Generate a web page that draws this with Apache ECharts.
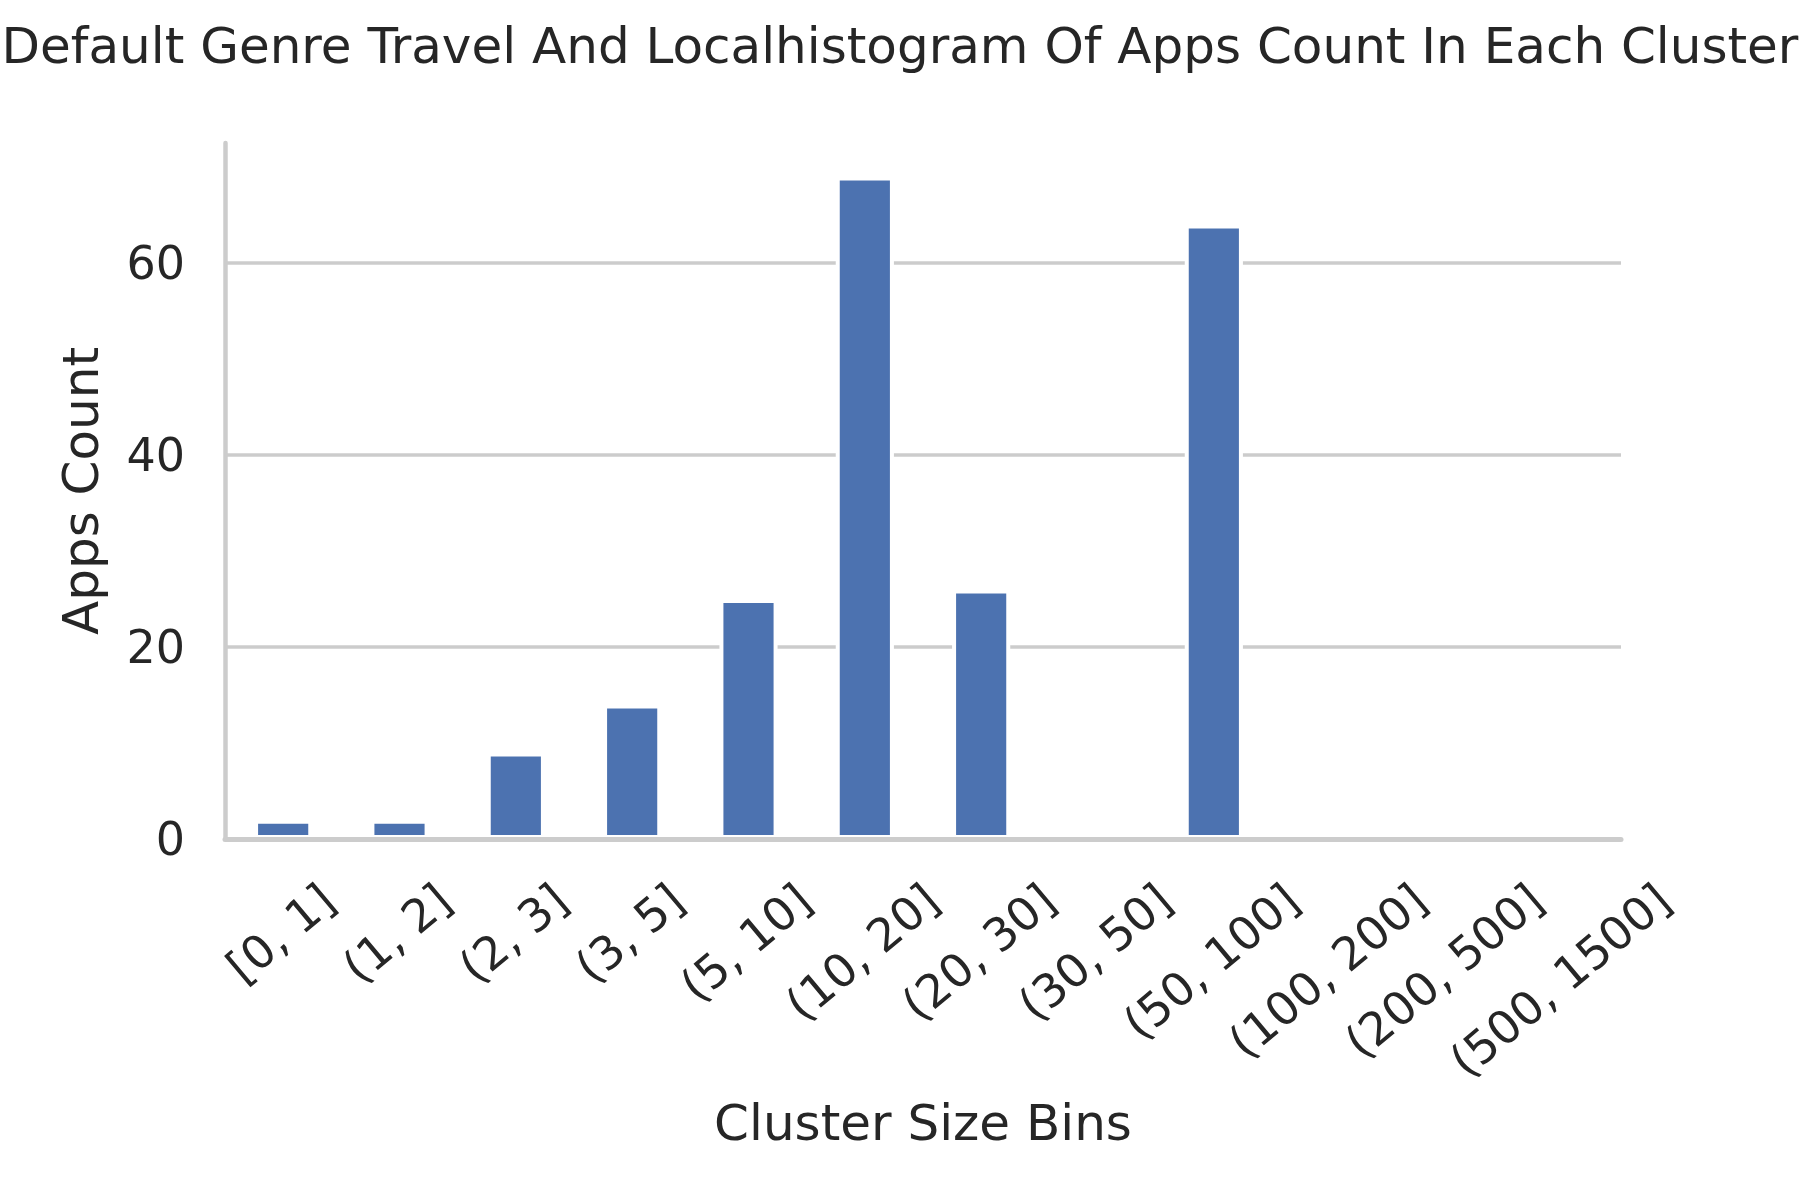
<!DOCTYPE html>
<html lang="en">
<head>
    <meta charset="UTF-8">
    <title>apps-count-histogram</title>
    <script src="https://cdn.jsdelivr.net/npm/echarts@6.0.0/dist/echarts.min.js"></script>
</head>
<body style="margin:0">
<div id="main" style="width: 1800px;height:1200px;"></div>
<script>
    // cluster size bins and apps count per bin
    var bins = ['[0, 1]', '(1, 2]', '(2, 3]', '(3, 5]', '(5, 10]', '(10, 20]', '(20, 30]',
        '(30, 50]', '(50, 100]', '(100, 200]', '(200, 500]', '(500, 1500]'];
    var counts = [2, 2, 9, 14, 25, 69, 26, 0, 64, 0, 0, 0];
    var yTicks = [0, 20, 40, 60];

    var FONT = 'DejaVu Sans';
    var TEXT = '#262626';
    var tickSize = 46;
    var rot = 40 * Math.PI / 180;

    // rotated labels: centre each one under its tick, top of the rotated box at a fixed gap
    // (align / verticalAlign must sit on the item itself, the axisLabel ones are not inherited)
    var ctx = document.createElement('canvas').getContext('2d');
    ctx.font = tickSize + 'px "' + FONT + '"';
    var binItems = bins.map(function (b) {
        var w = ctx.measureText(b).width;
        var d = (w * Math.sin(rot) + tickSize * Math.cos(rot)) / 2;
        return {
            value: b,
            textStyle: {
                align: 'center',
                verticalAlign: 'top',
                padding: [Math.max(0, d * Math.cos(rot) - tickSize / 2), 2 * d * Math.sin(rot), 0, 0]
            }
        };
    });

    var chart = echarts.init(document.getElementById('main'));
    var option = {
        animation: false,
        textStyle: {fontFamily: FONT},
        title: {
            text: 'Default Genre Travel And Localhistogram Of Apps Count In Each Cluster',
            left: 'center',
            top: 20,
            textStyle: {fontFamily: FONT, fontSize: 50, fontWeight: 'normal', color: TEXT}
        },
        grid: {
            left: 225,
            right: 179,
            top: 143,
            bottom: 361,
            containLabel: false,
            outerBoundsMode: 'none'
        },
        xAxis: {
            type: 'category',
            data: binItems,
            z: 5,
            name: 'Cluster Size Bins',
            nameLocation: 'middle',
            nameGap: 263,
            nameMoveOverlap: false,
            nameTextStyle: {fontFamily: FONT, fontSize: 50, color: TEXT},
            axisLine: {show: true, lineStyle: {color: '#cccccc', width: 5}},
            axisTick: {show: false},
            axisLabel: {
                interval: 0,
                rotate: 40,
                margin: 40,
                lineHeight: tickSize,
                fontFamily: FONT,
                fontSize: tickSize,
                color: TEXT
            },
            splitLine: {show: false}
        },
        yAxis: {
            type: 'value',
            min: 0,
            max: 72.5,
            interval: 20,
            name: 'Apps Count',
            nameLocation: 'middle',
            nameGap: 115,
            nameMoveOverlap: false,
            nameTextStyle: {fontFamily: FONT, fontSize: 50, color: TEXT},
            axisLine: {show: true, lineStyle: {color: '#cccccc', width: 4.5}},
            axisTick: {show: false},
            axisLabel: {
                margin: 40,
                fontFamily: FONT,
                fontSize: tickSize,
                lineHeight: tickSize,
                verticalAlign: 'top',
                padding: [-19, 0, 0, 0],
                color: TEXT,
                showMaxLabel: false,
                formatter: function (v) {
                    return yTicks.indexOf(v) >= 0 ? String(v) : '';
                }
            },
            splitLine: {
                show: true,
                showMinLine: false,
                showMaxLine: false,
                lineStyle: {color: '#cccccc', width: 3.5}
            }
        },
        series: [
            {
                name: 'Apps Count',
                type: 'bar',
                data: counts,
                barWidth: '50%',
                itemStyle: {color: '#4c72b0', borderColor: '#ffffff', borderWidth: 4}
            }
        ]
    };
    chart.setOption(option);
</script>
</body>
</html>
